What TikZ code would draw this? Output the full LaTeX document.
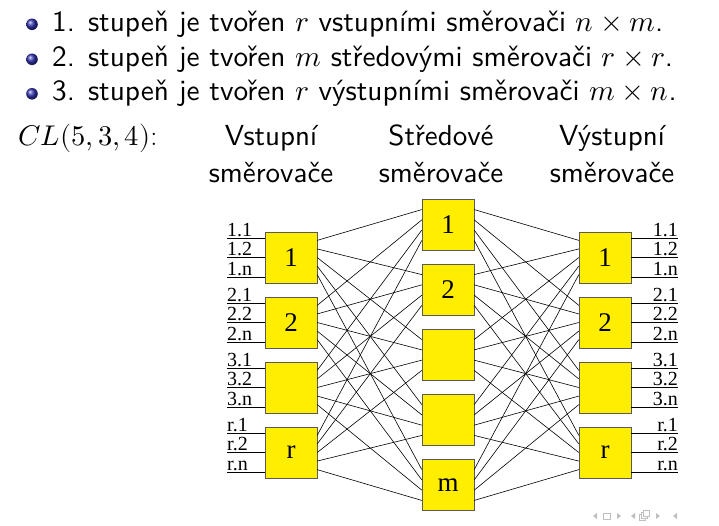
\documentclass[tikz,border=0pt]{standalone}
\usepackage{fontspec}
\usepackage{unicode-math}
\setmathfont{Latin Modern Math}
\setsansfont{lmsans10-regular.otf}
\newfontfamily\timesfont{Liberation Serif}
\usetikzlibrary{calc}
\definecolor{swyellow}{RGB}{255,238,0}
\definecolor{ballblue}{RGB}{51,51,178}
\tikzstyle{swbox}=[draw=black!65,fill=swyellow,minimum width=52pt,minimum height=51pt,inner sep=0pt,font=\timesfont\fontsize{27}{27}\selectfont]
\tikzstyle{portlbl}=[inner sep=0pt,font=\timesfont\fontsize{20}{20}\selectfont]
\tikzstyle{slidetext}=[inner sep=0pt,font=\sffamily\fontsize{29.3}{34}\selectfont]
\tikzstyle{headtext}=[inner sep=0pt,align=center,font=\sffamily\fontsize{29}{36.5}\selectfont]
\tikzstyle{wire}=[line width=0.6pt]
\tikzstyle{navsym}=[black!25]

\begin{document}
\begin{tikzpicture}[x=1pt,y=-1pt]
    \useasboundingbox (0,0) rectangle (719,525);
    % bullets
    \foreach \y in {24.3,59.3,93.8}
        \shade[ball color=ballblue] (32,\y) circle (5.8);
    \node[slidetext,anchor=base west] (item1) at (52,31) {1. stupeň je tvořen $r$ vstupními směrovači $n\times m$.};
    \node[slidetext,anchor=base west] (item2) at (52,66) {2. stupeň je tvořen $m$ středovými směrovači $r\times r$.};
    \node[slidetext,anchor=base west] (item3) at (52,100.5) {3. stupeň je tvořen $r$ výstupními směrovači $m\times n$.};
    \node[inner sep=0pt,anchor=base west,font=\fontsize{28.5}{28.5}\selectfont] (cl) at (18,145.5) {$CL(5,3,4)$:};
    % headings (base = last line)
    \node[headtext,anchor=base] (hin) at (271,182) {Vstupní\\směrovače};
    \node[headtext,anchor=base] (hmid) at (441,182) {Středové\\směrovače};
    \node[headtext,anchor=base] (hout) at (612,182) {Výstupní\\směrovače};
    % switches
    \foreach \i/\lbl in {1/1,2/2,3/{},4/r}
        \node[swbox] (L\i) at (291,{257.5+65*(\i-1)}) {\lbl};
    \foreach \j/\lbl in {1/1,2/2,3/{},4/{},5/m}
        \node[swbox] (M\j) at (448,{225+65*(\j-1)}) {\lbl};
    \foreach \i/\lbl in {1/1,2/2,3/{},4/r}
        \node[swbox] (R\i) at (605,{257.5+65*(\i-1)}) {\lbl};
    % inputs and outputs
    \foreach \i/\p in {1/1,2/2,3/3,4/r}
        \foreach \k/\q/\dy in {1/1/-19.5,2/2/-0.5,3/n/19.5} {
            \coordinate (pa\i\k) at (227,{257.5+65*(\i-1)+\dy});
            \coordinate (pb\i\k) at (678,{257.5+65*(\i-1)+\dy});
            \node[portlbl,anchor=base west] (a\i\k) at ([yshift=1.5pt]pa\i\k) {\p.\q};
            \node[portlbl,anchor=base east] (b\i\k) at ([yshift=1.5pt]pb\i\k) {\p.\q};
            \draw[wire] (pa\i\k) -- (pa\i\k -| L\i.west);
            \draw[wire] (R\i.east |- pb\i\k) -- (pb\i\k);
        }
    % links between stages
    \foreach \i in {1,...,4}
        \foreach \j in {1,...,5} {
            \draw[wire] ($(L\i.north east)!{\j/6}!(L\i.south east)$) -- ($(M\j.north west)!{\i/5}!(M\j.south west)$);
            \draw[wire] ($(M\j.north east)!{\i/5}!(M\j.south east)$) -- ($(R\i.north west)!{\j/6}!(R\i.south west)$);
        }
    % navigation
    \fill[navsym] (597,513) -- (597,519) -- (593,516) -- cycle;
    \draw[navsym] (603,513) rectangle (610,519);
    \fill[navsym] (617,513) -- (617,519) -- (621,516) -- cycle;
    \fill[navsym] (635,513) -- (635,519) -- (631,516) -- cycle;
    \draw[navsym] (639,514) rectangle (645,520);
    \draw[navsym,fill=white] (641,512) rectangle (647,518);
    \draw[navsym,fill=white] (643,510) rectangle (649,516);
    \fill[navsym] (656,513) -- (656,519) -- (660,516) -- cycle;
    \fill[navsym] (677,513) -- (677,519) -- (673,516) -- cycle;
\end{tikzpicture}
\end{document}
